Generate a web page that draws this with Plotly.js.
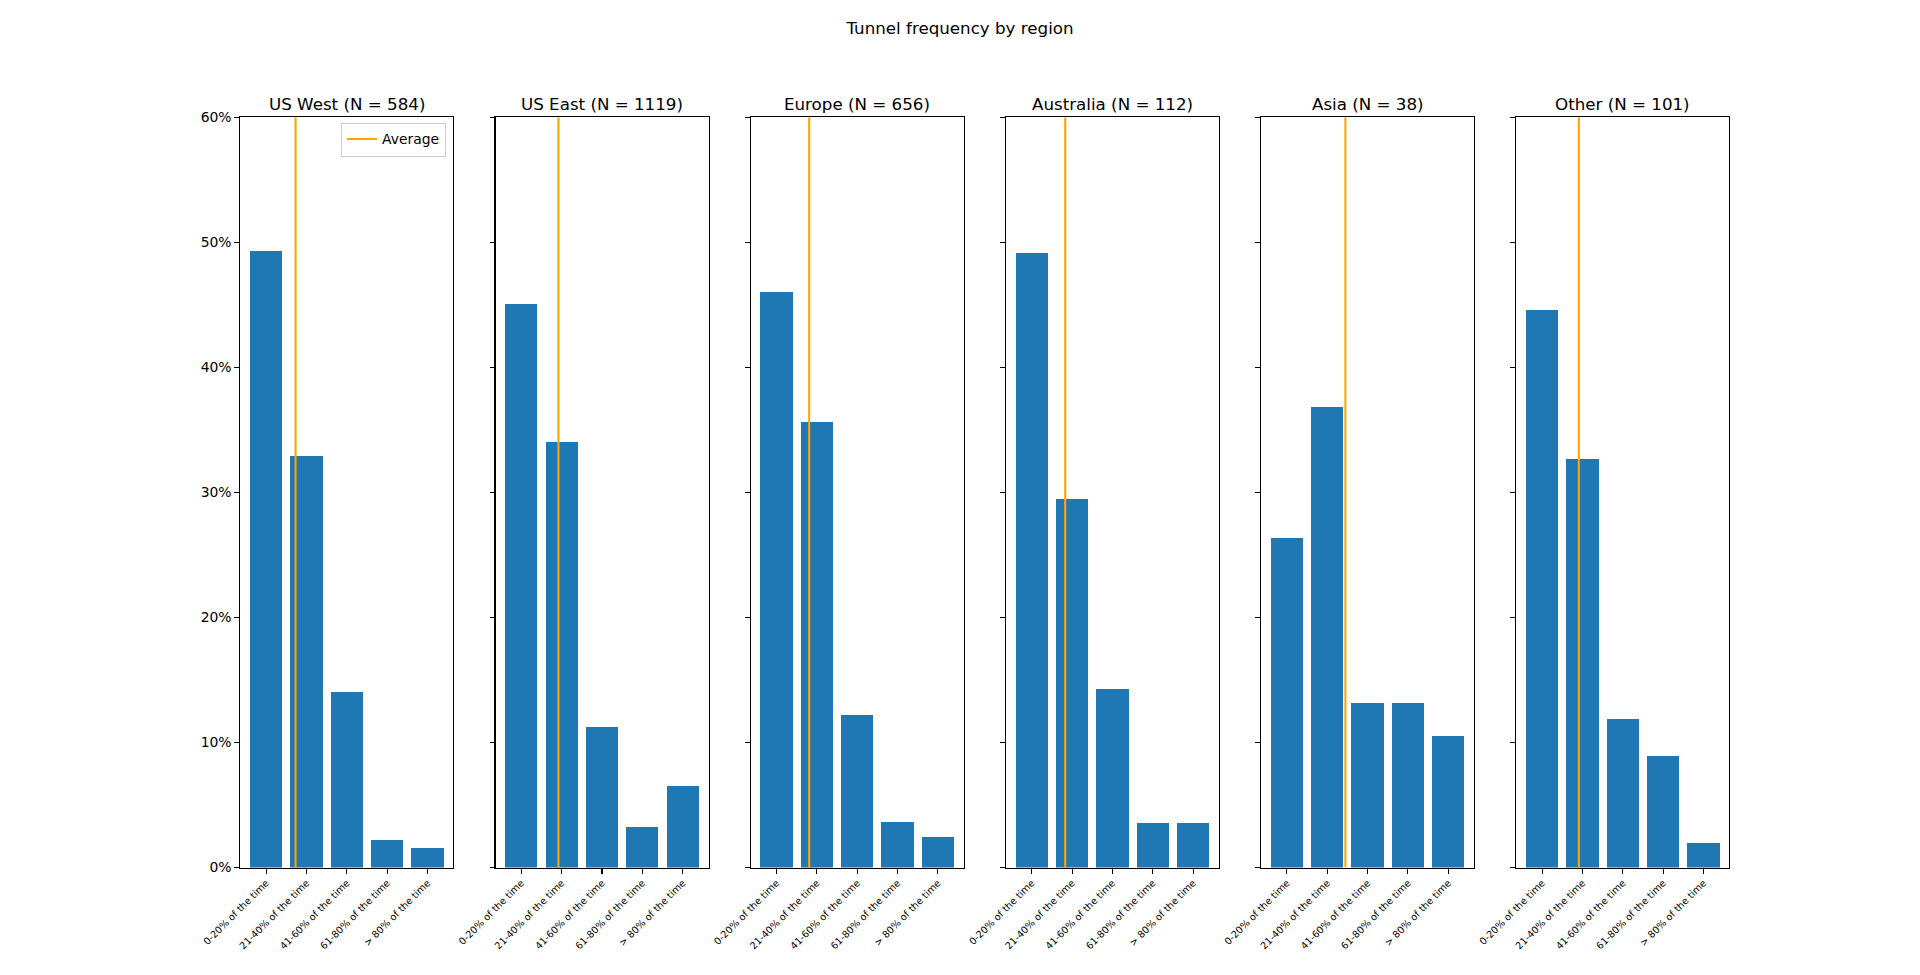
<!DOCTYPE html>
<html>
<head>
<meta charset="utf-8">
<script src="https://cdn.plot.ly/plotly-3.0.1.min.js"></script>
<style>
  html, body { margin: 0; padding: 0; background: #fff; }
  #chart { width: 1920px; height: 975px; }
</style>
</head>
<body>
<div id="chart"></div>
<script>
// ---- data ----
const categories = ["0-20% of the time", "21-40% of the time", "41-60% of the time", "61-80% of the time", "> 80% of the time"];
const regions = ["US West", "US East", "Europe", "Australia", "Asia", "Other"];
const sampleSizes = [584, 1119, 656, 112, 38, 101];

const usWest    = [49.32, 32.88, 14.04, 2.23, 1.54];
const usEast    = [45.04, 34.05, 11.26, 3.22, 6.52];
const europe    = [46.04, 35.67, 12.20, 3.66, 2.44];
const australia = [49.11, 29.46, 14.29, 3.57, 3.57];
const asia      = [26.32, 36.84, 13.16, 13.16, 10.53];
const other     = [44.55, 32.67, 11.88, 8.91, 1.98];

// average category position (index scale), one per region
const averages = [0.73, 0.92, 0.81, 0.83, 1.45, 0.91];

const yTickValues = [0, 10, 20, 30, 40, 50, 60];
const yTickLabels = ["0%", "10%", "20%", "30%", "40%", "50%", "60%"];

const suptitle = "Tunnel frequency by region";
const legendLabel = "Average";

// ---- build ----
const series = [usWest, usEast, europe, australia, asia, other];
const W = 1920, H = 975;
const font = "DejaVu Sans";
const barColor = "#1f77b4";
const avgColor = "#ffa500";

const leftPx = 240.3, pitchPx = 255.2, widthPx = 213;
const yDomain = [(H - 867.5) / H, (H - 117.3) / H];
const catPos = categories.map((c, i) => i);

const traces = [];
const layout = {
  width: W, height: H,
  margin: {l: 0, r: 0, t: 0, b: 0},
  paper_bgcolor: "#ffffff",
  plot_bgcolor: "#ffffff",
  font: {family: font, color: "#000000", size: 13.9},
  showlegend: true,
  title: {
    text: suptitle,
    x: 0.5, xanchor: "center",
    y: 0.977, yanchor: "top",
    font: {family: font, size: 16.7, color: "#000000"}
  },
  legend: {
    x: 446 / W, xanchor: "right",
    y: (H - 122.5) / H, yanchor: "top",
    bgcolor: "rgba(255,255,255,0.8)",
    bordercolor: "#cccccc",
    borderwidth: 1,
    font: {family: font, size: 13.9, color: "#000000"},
    itemwidth: 30,
    tracegroupgap: 0
  },
  annotations: [],
  bargap: 0
};

regions.forEach((name, i) => {
  const suffix = i === 0 ? "" : String(i + 1);
  const xa = "x" + suffix, ya = "y" + suffix;
  const x0 = (leftPx + i * pitchPx) / W;
  const x1 = (leftPx + i * pitchPx + widthPx) / W;

  traces.push({
    type: "bar",
    x: catPos,
    y: series[i],
    width: 0.8,
    marker: {color: barColor, line: {width: 0}},
    xaxis: xa, yaxis: ya,
    showlegend: false,
    hoverinfo: "skip"
  });
  traces.push({
    type: "scatter",
    mode: "lines",
    x: [averages[i], averages[i]],
    y: [yTickValues[0], yTickValues[yTickValues.length - 1]],
    line: {color: avgColor, width: 2.1},
    xaxis: xa, yaxis: ya,
    name: legendLabel,
    showlegend: i === 0,
    hoverinfo: "skip"
  });

  layout["xaxis" + suffix] = {
    domain: [x0, x1],
    anchor: ya,
    range: [-0.64, 4.64],
    tickmode: "array",
    tickvals: catPos,
    ticktext: categories,
    tickangle: -45,
    ticks: "outside",
    ticklen: 4.9,
    tickwidth: 1.1,
    tickcolor: "#000000",
    tickfont: {family: font, size: 9.7, color: "#000000"},
    showline: true, mirror: true,
    linecolor: "#000000", linewidth: 1.1,
    showgrid: false, zeroline: false,
    fixedrange: true
  };
  layout["yaxis" + suffix] = {
    domain: yDomain,
    anchor: xa,
    range: [yTickValues[0], yTickValues[yTickValues.length - 1]],
    tickmode: "array",
    tickvals: yTickValues,
    ticktext: yTickLabels,
    showticklabels: i === 0,
    ticks: "outside",
    ticklen: 4.9,
    tickwidth: 1.1,
    tickcolor: "#000000",
    tickfont: {family: font, size: 13.9, color: "#000000"},
    showline: true, mirror: true,
    linecolor: "#000000", linewidth: 1.1,
    showgrid: false, zeroline: false,
    fixedrange: true
  };
  layout.annotations.push({
    text: name + " (N = " + sampleSizes[i] + ")",
    xref: "paper", yref: "paper",
    x: (x0 + x1) / 2, xanchor: "center",
    y: yDomain[1], yanchor: "bottom",
    yshift: 1.5,
    showarrow: false,
    font: {family: font, size: 16.7, color: "#000000"}
  });
});

Plotly.newPlot("chart", traces, layout, {displayModeBar: false, staticPlot: true});
</script>
</body>
</html>
